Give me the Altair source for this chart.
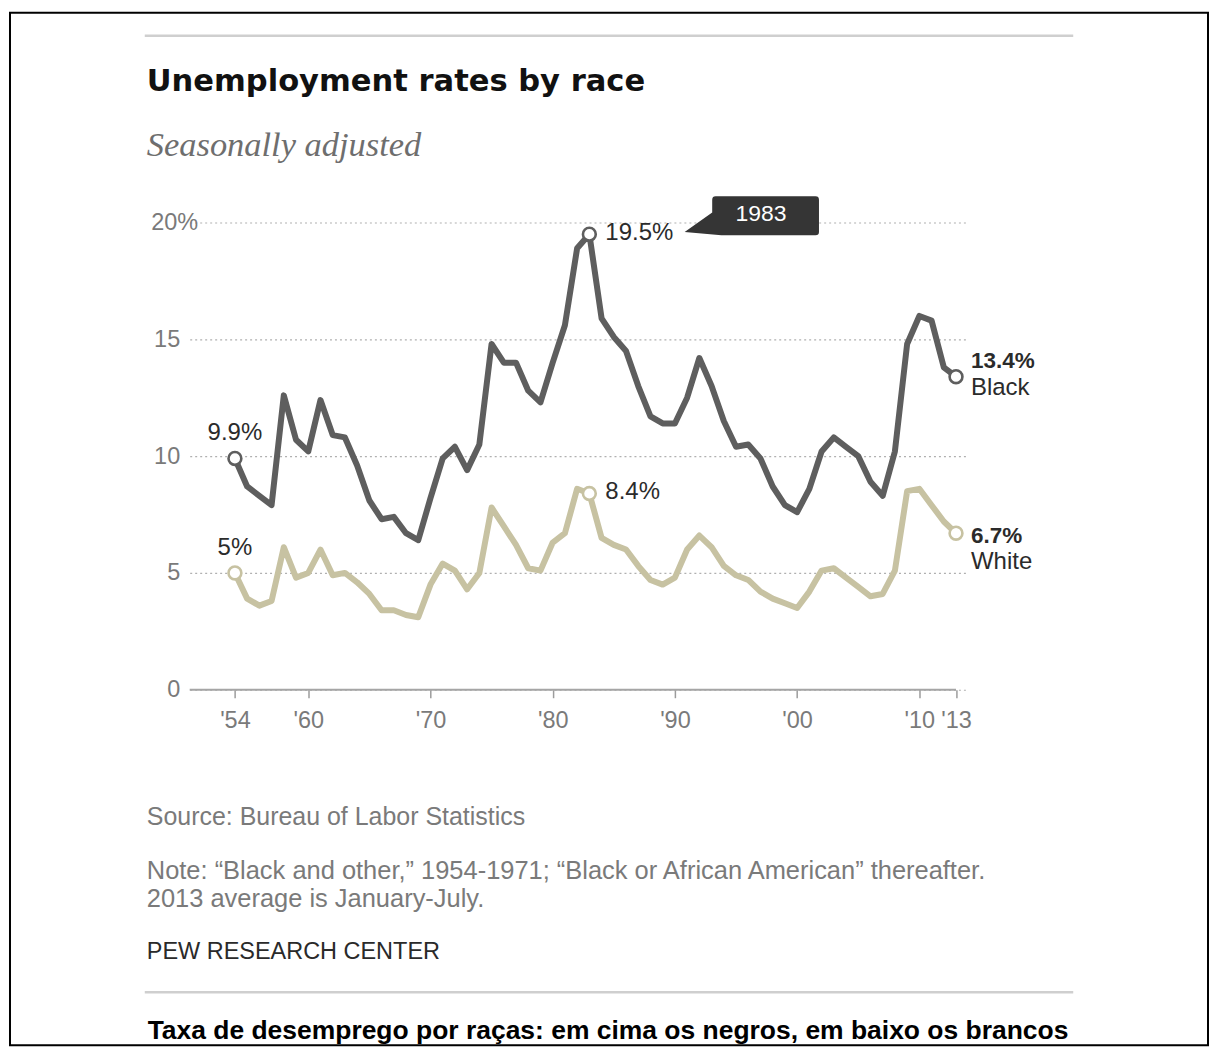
import altair as alt
import pandas as pd

# ---------------- data ----------------
years = list(range(1954, 2014))
black = [9.9, 8.7, 8.3, 7.9, 12.6, 10.7, 10.2, 12.4, 10.9, 10.8,
         9.6, 8.1, 7.3, 7.4, 6.7, 6.4, 8.2, 9.9, 10.4, 9.4,
         10.5, 14.8, 14.0, 14.0, 12.8, 12.3, 14.0, 15.6, 18.9, 19.5,
         15.9, 15.1, 14.5, 13.0, 11.7, 11.4, 11.4, 12.5, 14.2, 13.0,
         11.5, 10.4, 10.5, 9.9, 8.7, 7.9, 7.6, 8.6, 10.2, 10.8,
         10.4, 10.0, 8.9, 8.3, 10.2, 14.8, 16.0, 15.8, 13.8, 13.4]
white = [5.0, 3.9, 3.6, 3.8, 6.1, 4.8, 5.0, 6.0, 4.9, 5.0,
         4.6, 4.1, 3.4, 3.4, 3.2, 3.1, 4.5, 5.4, 5.1, 4.3,
         5.0, 7.8, 7.0, 6.2, 5.2, 5.1, 6.3, 6.7, 8.6, 8.4,
         6.5, 6.2, 6.0, 5.3, 4.7, 4.5, 4.8, 6.0, 6.6, 6.1,
         5.3, 4.9, 4.7, 4.2, 3.9, 3.7, 3.5, 4.2, 5.1, 5.2,
         4.8, 4.4, 4.0, 4.1, 5.1, 8.5, 8.6, 7.9, 7.2, 6.7]
races = ["Black", "White"]
x_ticks = [1954, 1960, 1970, 1980, 1990, 2000, 2010, 2013]
y_ticks = [0, 5, 10, 15, 20]
marked_years = [1954, 1983, 2013]
x_domain = [1950.3, 2013.85]

title_text = "Unemployment rates by race"
subtitle_text = "Seasonally adjusted"
source_text = "Source: Bureau of Labor Statistics"
note_lines = ["Note: \u201cBlack and other,\u201d 1954-1971; \u201cBlack or African American\u201d thereafter.",
              "2013 average is January-July."]
org_text = "PEW RESEARCH CENTER"
caption_text = "Taxa de desemprego por ra\u00e7as: em cima os negros, em baixo os brancos"
callout_text = "1983"

df = pd.DataFrame({
    "year": years * 2,
    "value": black + white,
    "race": [races[0]] * len(years) + [races[1]] * len(years),
})
df["label"] = df["value"].map(lambda v: f"{v:g}%")
pts = df[df["year"].isin(marked_years)].copy()

W, H = 778, 468
LINE_COLORS = ["#5e5e5e", "#c7c2a2"]
AXIS_FONT = "Liberation Sans"
LABEL_FONT = "Liberation Sans"
FOOT_FONT = "Liberation Sans"

xs = alt.Scale(domain=x_domain, nice=False, zero=False)
ys = alt.Scale(domain=[y_ticks[0], y_ticks[-1]], nice=False, zero=True)
cs = alt.Scale(domain=races, range=LINE_COLORS)

x_axis = alt.Axis(values=x_ticks, labelExpr="\"'\" + slice(toString(datum.value), 2)",
                  grid=False, domain=False, tickSize=8, tickColor="#9c9c9c", tickWidth=1.5,
                  labelFontSize=23.5, labelColor="#7a7a7a", labelFont=AXIS_FONT, labelPadding=11,
                  labelFlush=False, labelOverlap=False, title=None)
y_axis = alt.Axis(values=y_ticks, labelExpr="datum.value == 20 ? '20%' : datum.label",
                  grid=True, gridDash=[2, 3], gridColor="#b0b0b0", gridWidth=1.2,
                  domain=False, ticks=False,
                  labelPadding={"condition": {"test": "datum.value == 20", "value": -8}, "value": 10},
                  labelFontSize=23.5,
                  labelColor="#7a7a7a", labelFont=AXIS_FONT, title=None)


def X(field="year"):
    return alt.X(f"{field}:Q", scale=xs, axis=x_axis)


def Y(field="value"):
    return alt.Y(f"{field}:Q", scale=ys, axis=y_axis)


lines = alt.Chart(df).mark_line(strokeWidth=6, strokeJoin="round", strokeCap="round").encode(
    x=X(), y=Y(), color=alt.Color("race:N", scale=cs, legend=None))

zero_df = pd.DataFrame({"year": [x_domain[0]], "x2": [x_ticks[-1]], "value": [y_ticks[0]]})
zero_rule = alt.Chart(zero_df).mark_rule(color="#a5a5a5", strokeWidth=2).encode(
    x=X(), x2="x2:Q", y=Y())

points = alt.Chart(pts).mark_point(filled=True, fill="white", size=165, strokeWidth=2.6, opacity=1).encode(
    x=X(), y=Y(), stroke=alt.Stroke("race:N", scale=cs, legend=None))


def label_layer(data, dx=0, dy=0, align="left", bold=False):
    return alt.Chart(data).mark_text(align=align, baseline="middle", dx=dx, dy=dy,
                                     fontSize=22.5 if bold else 24, font=LABEL_FONT,
                                     fontWeight="bold" if bold else "normal",
                                     color="#2b2b2b").encode(
        x=X(), y=Y(), text="label:N")


p54 = pts[pts.year == marked_years[0]]
p83 = pts[pts.year == marked_years[1]]
p13b = pts[(pts.year == marked_years[2]) & (pts.race == races[0])]
p13w = pts[(pts.year == marked_years[2]) & (pts.race == races[1])]
p13b_name = p13b.assign(label=races[0])
p13w_name = p13w.assign(label=races[1])

labels = [
    label_layer(p54, dy=-25, align="center"),
    label_layer(p83, dx=16, dy=-1),
    label_layer(p13b, dx=15, dy=-16, bold=True),
    label_layer(p13b_name, dx=15, dy=11, bold=False),
    label_layer(p13w, dx=15, dy=3, bold=True),
    label_layer(p13w_name, dx=15, dy=29, bold=False),
]

# callout "1983" anchored on the 1983 peak
peak = p83[p83.race == races[0]].assign(label=callout_text)
callout_path = "M1.07,-0.30 Q1.07,-0.33 1.10,-0.33 L1.97,-0.33 Q2,-0.33 2,-0.30 L2,-0.02 Q2,0.009 1.97,0.009 L1.15,0.009 L0.83,-0.02 L1.07,-0.19 Z"
callout_box = alt.Chart(peak).mark_point(shape=callout_path, size=52900, filled=True,
                                         color="#353535", opacity=1, strokeWidth=0).encode(
    x=X(), y=Y())
callout_lbl = alt.Chart(peak).mark_text(align="center", baseline="middle", dx=172, dy=-20,
                                        fontSize=23, font=LABEL_FONT, color="white").encode(
    x=X(), y=Y(), text="label:N")

one = pd.DataFrame({"t": [""]})


def txt(s, x, y, size, color, font, weight="normal", style="normal", align="left", baseline="middle"):
    return alt.Chart(pd.DataFrame({"t": [s]})).mark_text(
        align=align, baseline=baseline, fontSize=size, font=font, fontWeight=weight,
        fontStyle=style, color=color).encode(x=alt.value(x), y=alt.value(y), text="t:N")


def hrule(x1, x2, y, color, width):
    return alt.Chart(one).mark_rule(color=color, strokeWidth=width).encode(
        x=alt.value(x1), x2=alt.value(x2), y=alt.value(y))


border = alt.Chart(one).mark_rect(fillOpacity=0, stroke="black", strokeWidth=2).encode(
    x=alt.value(-180), x2=alt.value(1020), y=alt.value(-210), y2=alt.value(824))

decor = [
    border,
    hrule(-45, 885, -187, "#cfcfcf", 2.5),
    txt(title_text, -43, -132, 30.6, "#111111", "DejaVu Sans", weight="bold", baseline="alphabetic"),
    txt(subtitle_text, -43, -67, 34.5, "#6e6e6e", "Liberation Serif", style="italic", baseline="alphabetic"),
    txt(source_text, -43, 595, 25, "#7a7a7a", FOOT_FONT),
    txt(note_lines[0], -43, 650, 25.5, "#7a7a7a", FOOT_FONT),
    txt(note_lines[1], -43, 678, 25.5, "#7a7a7a", FOOT_FONT),
    txt(org_text, -43, 731, 23.5, "#2a2a2a", FOOT_FONT),
    hrule(-45, 885, 771, "#cfcfcf", 2.5),
    txt(caption_text, 419, 810, 26.5, "#000000", "Liberation Sans", weight="bold", align="center"),
]

chart = alt.layer(lines, zero_rule, points, *labels, callout_box, callout_lbl, *decor).properties(
    width=W, height=H,
    padding={"left": 182, "top": 214, "right": 244, "bottom": 358},
    autosize=alt.AutoSizeParams(type="none"),
    background="white",
).configure_view(stroke=None)

chart.save("out.html", embed_options={"renderer": "svg", "actions": False})
